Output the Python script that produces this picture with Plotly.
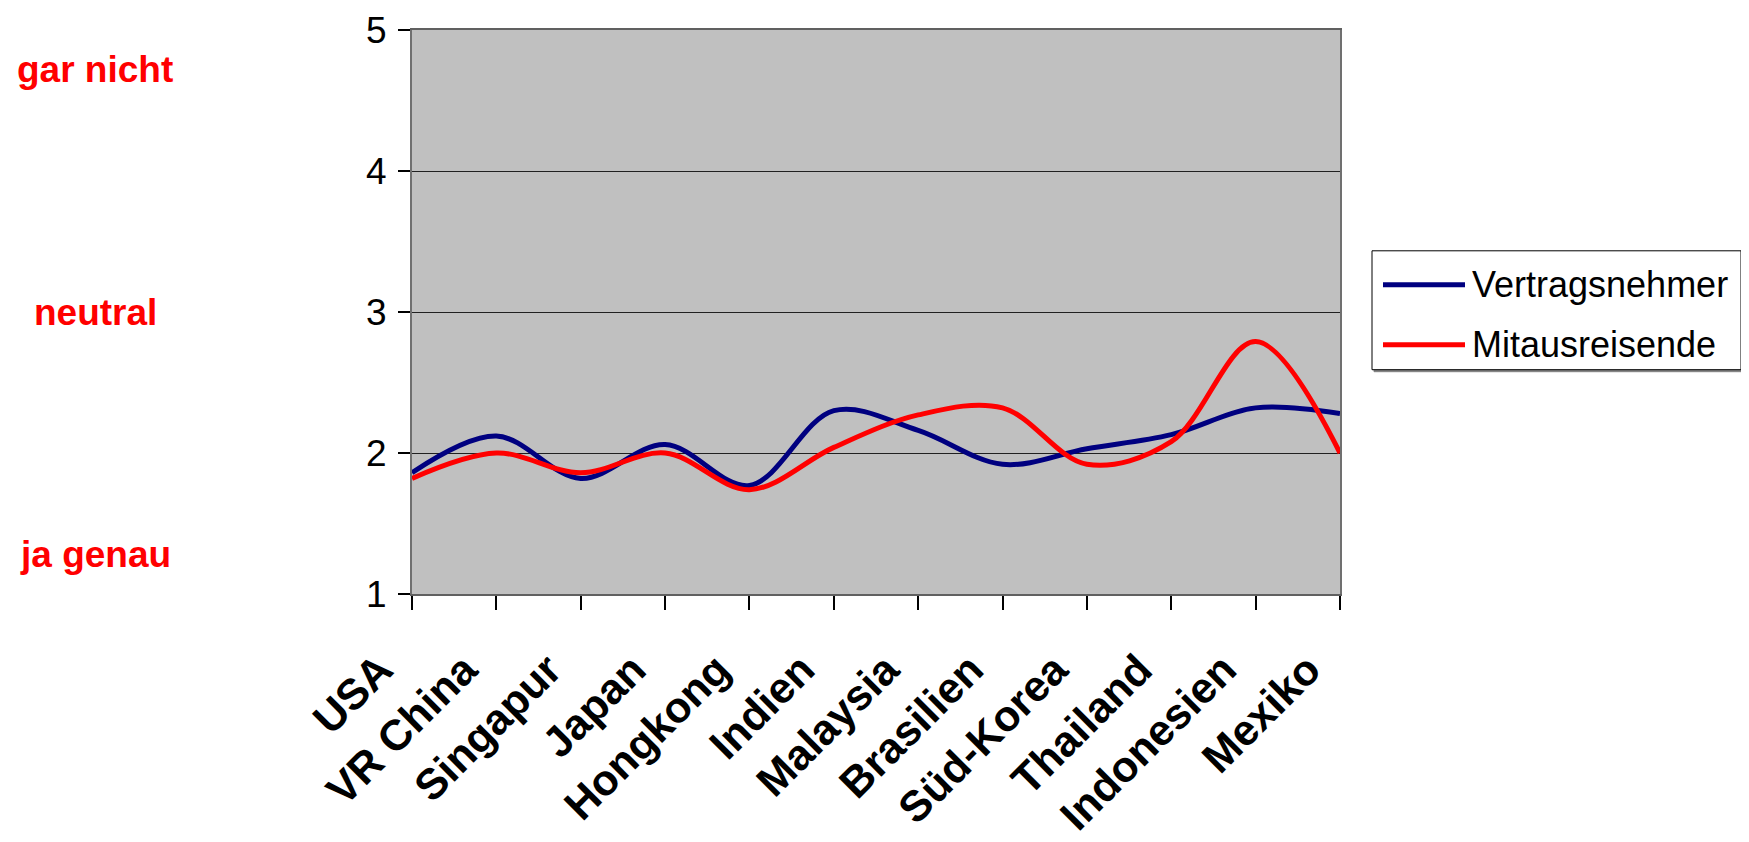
import plotly.graph_objects as go

categories = ["USA", "VR China", "Singapur", "Japan", "Hongkong", "Indien",
              "Malaysia", "Brasilien", "Süd-Korea", "Thailand", "Indonesien", "Mexiko"]
series_names = ["Vertragsnehmer", "Mitausreisende"]
vertragsnehmer = [1.86, 2.12, 1.82, 2.06, 1.77, 2.30, 2.16, 1.92, 2.03, 2.13, 2.32, 2.28]
mitausreisende = [1.82, 2.00, 1.86, 2.00, 1.74, 2.04, 2.27, 2.32, 1.92, 2.08, 2.79, 2.00]
y_ticks = [1, 2, 3, 4, 5]
scale_labels = ["ja genau", "neutral", "gar nicht"]
scale_values = [1.28, 3.0, 4.72]

colors = ["#000080", "#FF0000"]
OFF = 8  # default body margin of the html page
W, H = 1749 - OFF, 842 - OFF
# plot area in page pixels: x 412..1340, y 30..594.5
L, T = 412 - OFF, 30 - OFF
R = W - (1340 - OFF)
B = H - (594.5 - OFF)
pw, ph = W - L - R, H - T - B

def px_x(px):
    return (px - OFF - L) / pw

def px_y(py):
    return (H - B - (py - OFF)) / ph

fig = go.Figure()
for name, vals, col in zip(series_names, [vertragsnehmer, mitausreisende], colors):
    fig.add_trace(go.Scatter(x=categories, y=vals, mode="lines", name=name,
                             line=dict(color=col, width=5, shape="spline", smoothing=1.0),
                             showlegend=False))

font_family = "Liberation Sans, Arial, sans-serif"

fig.update_layout(
    width=W, height=H,
    margin=dict(l=L, r=R, t=T, b=B, pad=0, autoexpand=False),
    paper_bgcolor="white",
    plot_bgcolor="#C0C0C0",
    font=dict(family=font_family, color="black"),
    xaxis=dict(type="category", range=[0, len(categories) - 1], showgrid=False, automargin=False,
               ticks="outside", ticklen=14, tickwidth=1.5, tickcolor="black",
               showline=True, linecolor="#606060", linewidth=2, mirror=True,
               tickangle=-45, ticklabelstandoff=17, ticklabelshift=-32,
               tickfont=dict(size=43, family=font_family, weight="bold", color="black")),
    yaxis=dict(range=[1, 5], tickvals=y_ticks, showgrid=True, gridcolor="#202020", gridwidth=1,
               automargin=False,
               ticks="outside", ticklen=12, tickwidth=1.5, tickcolor="black",
               showline=True, linecolor="#707070", linewidth=2, mirror=True,
               zeroline=False, ticklabelstandoff=4,
               tickfont=dict(size=37, family=font_family, color="black")),
)

# scale annotations on the left
for txt, yv in zip(scale_labels, scale_values):
    fig.add_annotation(x=px_x(95), xref="paper", y=yv, yref="y", text=txt, showarrow=False,
                       xanchor="center", yanchor="middle",
                       font=dict(size=37, color="#FF0000", family=font_family, weight="bold"))

# custom legend (page pixel positions)
bx0, bx1, by0, by1 = 1372, 1741, 251, 370
fig.add_shape(type="rect", xref="paper", yref="paper",
              x0=px_x(bx0 + 2), x1=px_x(bx1 + 2), y0=px_y(by1 + 2), y1=px_y(by0 + 2),
              line=dict(color="#808080", width=1), fillcolor="#808080", layer="above")
fig.add_shape(type="rect", xref="paper", yref="paper",
              x0=px_x(bx0), x1=px_x(bx1), y0=px_y(by1), y1=px_y(by0),
              line=dict(color="black", width=1), fillcolor="white", layer="above")
for i, (name, col) in enumerate(zip(series_names, colors)):
    ly = 285 + i * 60
    fig.add_shape(type="line", xref="paper", yref="paper",
                  x0=px_x(1383), x1=px_x(1465), y0=px_y(ly), y1=px_y(ly),
                  line=dict(color=col, width=5), layer="above")
    fig.add_annotation(x=px_x(1470), xref="paper", y=px_y(ly), yref="paper", text=name,
                       showarrow=False, xanchor="left", yanchor="middle",
                       font=dict(size=36, color="black", family=font_family))

fig.write_html("out.html")
